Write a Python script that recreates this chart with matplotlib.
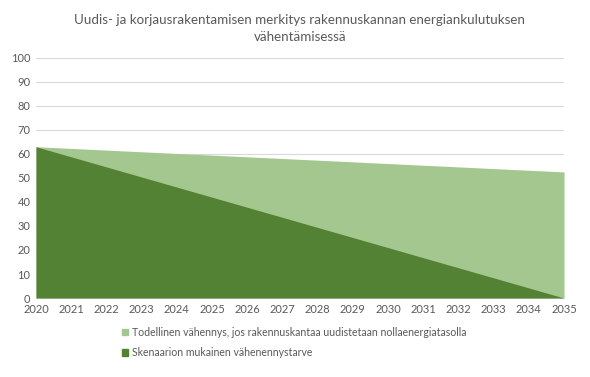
import matplotlib
matplotlib.use("Agg")
import matplotlib.pyplot as plt
from matplotlib.patches import Patch

years = [2020, 2021, 2022, 2023, 2024, 2025, 2026, 2027, 2028, 2029, 2030, 2031, 2032, 2033, 2034, 2035]
actual = [63, 62.3, 61.6, 60.9, 60.2, 59.5, 58.8, 58.1, 57.4, 56.7, 56.0, 55.3, 54.6, 53.9, 53.2, 52.5]
scenario = [63, 58.8, 54.6, 50.4, 46.2, 42.0, 37.8, 33.6, 29.4, 25.2, 21.0, 16.8, 12.6, 8.4, 4.2, 0]
labels = ["Todellinen vähennys, jos rakennuskantaa uudistetaan nollaenergiatasolla",
          "Skenaarion mukainen vähenennystarve"]
title = "Uudis- ja korjausrakentamisen merkitys rakennuskannan energiankulutuksen\nvähentämisessä"

plt.rcParams['font.family'] = ['Lato', 'DejaVu Sans']
light = "#A4C78F"
dark = "#538234"
tc = "#595959"

fig = plt.figure(figsize=(5.9, 3.77), dpi=100)
ax = fig.add_axes([0.061, 0.2095, 0.895, 0.637])
ax.fill_between(years, 0, actual, color=light, linewidth=0, zorder=2)
ax.fill_between(years, 0, scenario, color=dark, linewidth=0, zorder=3)
ax.set_xlim(2020, 2035)
ax.set_ylim(0, 100)
ax.set_yticks(range(0, 101, 10))
ax.set_xticks(years)
ax.grid(axis='y', color="#D9D9D9", linewidth=0.8, zorder=0)
for s in ax.spines.values():
    s.set_visible(False)
ax.spines['bottom'].set_visible(True)
ax.spines['bottom'].set_color("#D9D9D9")
ax.tick_params(length=0, labelsize=8, colors=tc, pad=4)
fig.text(0.508, 0.925, title, ha='center', va='center', fontsize=9.6, color=tc, linespacing=1.45)
handles = [Patch(color=light), Patch(color=dark)]
fig.legend(handles, labels, loc='upper left', bbox_to_anchor=(0.207, 0.133), frameon=False,
           fontsize=7.6, labelcolor=tc, handlelength=0.6, handleheight=0.6, handletextpad=0.35,
           labelspacing=0.9, borderpad=0, borderaxespad=0)
fig.savefig("out.png", dpi=100)
